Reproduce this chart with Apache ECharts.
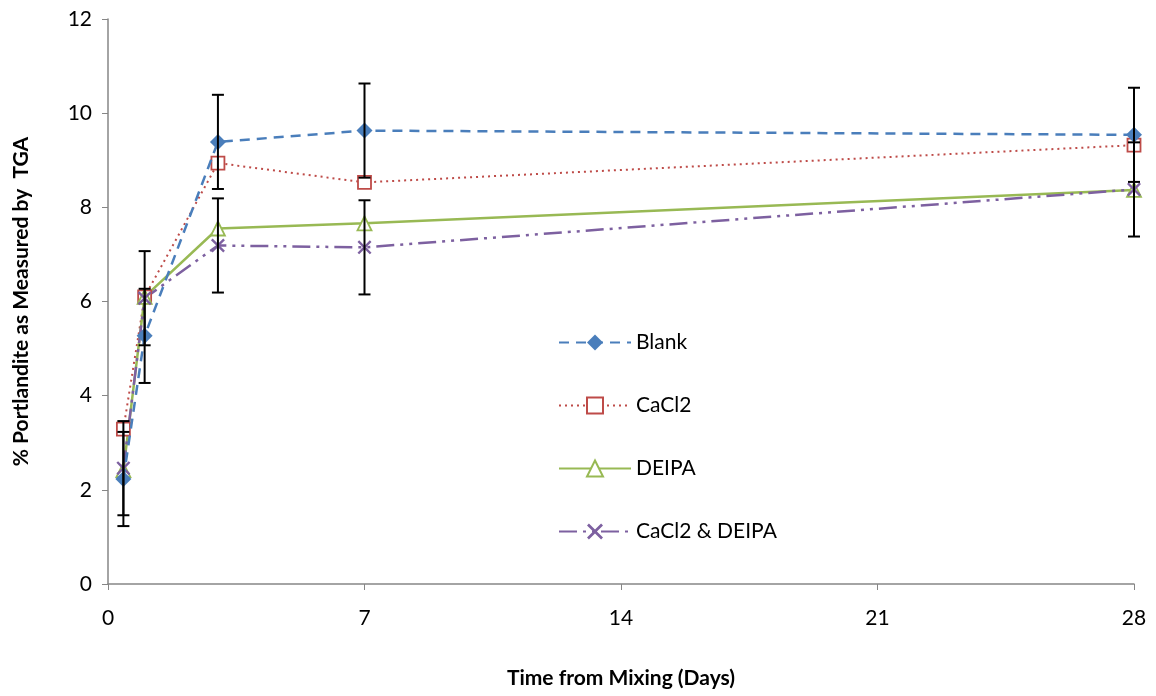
<!DOCTYPE html>
<html>
<head>
<meta charset="utf-8">
<script src="https://cdn.jsdelivr.net/npm/echarts@6/dist/echarts.min.js"></script>
<style>
  html, body { margin: 0; padding: 0; background: #fff; }
  #chart { width: 1156px; height: 696px; }
</style>
</head>
<body>
<div id="chart"></div>
<script>
var chartDom = document.getElementById('chart');
var myChart = echarts.init(chartDom);

// days after mixing
var days = [0.42, 1, 3, 7, 28];

var blank = [2.23, 5.27, 9.39, 9.63, 9.54];
var cacl2 = [3.29, 6.10, 8.94, 8.53, 9.32];
var deipa = [2.42, 6.10, 7.55, 7.66, 8.37];
var both = [2.46, 6.07, 7.19, 7.15, 8.38];

// +/- error, only blank and CaCl2 & DEIPA have bars
var blankErr = [1, 1, 1, 1, 1];
var bothErr = [1, 1, 1, 1, 1];

var seriesNames = ['Blank', 'CaCl2', 'DEIPA', 'CaCl2 & DEIPA'];

var font = 'Lato, "Open Sans", sans-serif';
var xSymbol = 'path://M0,1.2L1.2,0L5,3.8L8.8,0L10,1.2L6.2,5L10,8.8L8.8,10L5,6.2L1.2,10L0,8.8L3.8,5Z';

function pairs(vals) {
  return vals.map(function (v, i) { return [days[i], v]; });
}

function errData(vals, errs) {
  return vals.map(function (v, i) { return [days[i], v - errs[i], v + errs[i]]; });
}

function renderErr(params, api) {
  var x = api.value(0);
  var lo = api.coord([x, api.value(1)]);
  var hi = api.coord([x, api.value(2)]);
  var hw = 6;
  var style = { stroke: '#000', lineWidth: 2 };
  return {
    type: 'group',
    children: [
      { type: 'line', shape: { x1: lo[0], y1: lo[1], x2: hi[0], y2: hi[1] }, style: style },
      { type: 'line', shape: { x1: hi[0] - hw, y1: hi[1], x2: hi[0] + hw, y2: hi[1] }, style: style },
      { type: 'line', shape: { x1: lo[0] - hw, y1: lo[1], x2: lo[0] + hw, y2: lo[1] }, style: style }
    ]
  };
}

option = {
  animation: false,
  grid: {
    left: 108,
    right: 22,
    top: 19,
    bottom: 112
  },
  legend: {
    data: seriesNames,
    orient: 'vertical',
    left: 553,
    top: 327,
    itemGap: 42,
    itemWidth: 72,
    itemHeight: 20,
    textStyle: { fontFamily: font, fontSize: 21, color: '#000' }
  },
  xAxis: {
    type: 'value',
    min: 0,
    max: 28,
    interval: 7,
    name: 'Time from Mixing (Days)',
    nameLocation: 'middle',
    nameGap: 84,
    nameTextStyle: { fontFamily: font, fontSize: 21, fontWeight: 'bold', color: '#000' },
    axisLine: { lineStyle: { color: '#868686', width: 1.5 } },
    axisTick: { show: true, length: 6, lineStyle: { color: '#868686' } },
    axisLabel: { fontFamily: font, fontSize: 21, color: '#000', margin: 24 },
    splitLine: { show: false }
  },
  yAxis: {
    type: 'value',
    min: 0,
    max: 12,
    interval: 2,
    name: '% Portlandite as Measured by  TGA',
    nameLocation: 'middle',
    nameGap: 76,
    nameRotate: 90,
    nameTextStyle: { fontFamily: font, fontSize: 21, fontWeight: 'bold', color: '#000' },
    axisLine: { show: true, lineStyle: { color: '#868686', width: 1.5 } },
    axisTick: { show: true, length: 6, lineStyle: { color: '#868686' } },
    axisLabel: { fontFamily: font, fontSize: 21, color: '#000', margin: 16 },
    splitLine: { show: false }
  },
  series: [
    {
      name: 'Blank',
      type: 'line',
      data: pairs(blank),
      symbol: 'diamond',
      symbolSize: 16,
      itemStyle: { color: '#4a7ebb' },
      lineStyle: { color: '#4a7ebb', width: 2.5, type: [10, 7] },
      z: 4
    },
    {
      name: 'CaCl2',
      type: 'line',
      data: pairs(cacl2),
      symbol: 'rect',
      symbolSize: 13,
      itemStyle: { color: '#fff', borderColor: '#be4b48', borderWidth: 1.8 },
      lineStyle: { color: '#be4b48', width: 2, type: [2, 4] },
      z: 3
    },
    {
      name: 'DEIPA',
      type: 'line',
      data: pairs(deipa),
      symbol: 'triangle',
      symbolSize: 14,
      itemStyle: { color: '#fff', borderColor: '#98b954', borderWidth: 1.8 },
      lineStyle: { color: '#98b954', width: 2.5, type: 'solid' },
      z: 3
    },
    {
      name: 'CaCl2 & DEIPA',
      type: 'line',
      data: pairs(both),
      symbol: xSymbol,
      symbolSize: 14,
      itemStyle: { color: '#7d60a0' },
      lineStyle: { color: '#7d60a0', width: 2.5, type: [18, 6, 3, 6, 3, 6] },
      z: 3
    },
    {
      type: 'custom',
      renderItem: renderErr,
      data: errData(blank, blankErr),
      encode: { x: 0, y: [1, 2] },
      z: 5
    },
    {
      type: 'custom',
      renderItem: renderErr,
      data: errData(both, bothErr),
      encode: { x: 0, y: [1, 2] },
      z: 5
    }
  ]
};

myChart.setOption(option);
</script>
</body>
</html>
